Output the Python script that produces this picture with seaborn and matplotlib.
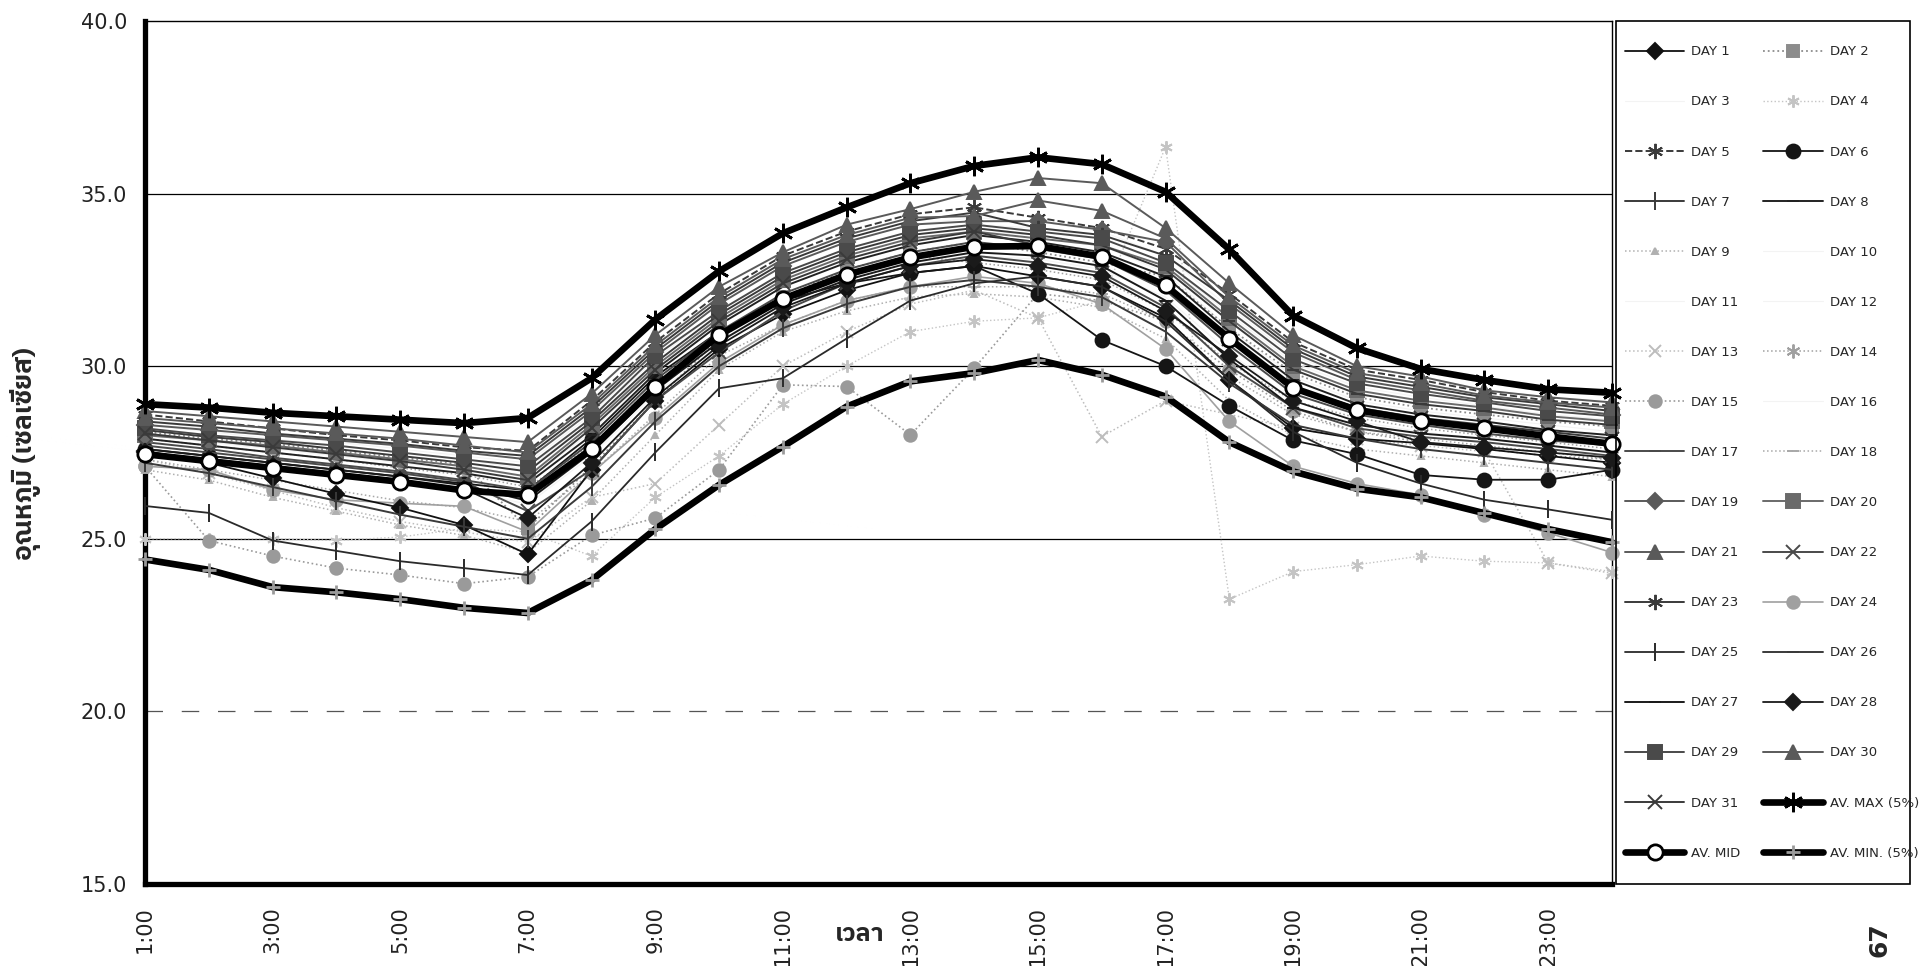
import matplotlib
matplotlib.use('Agg')
import matplotlib.pyplot as plt
from matplotlib import font_manager, ft2font
from matplotlib.patches import Rectangle
import pandas as pd
import seaborn as sns

# hours of the day (1:00 .. 24:00), labels on odd hours only
hours = list(range(1, 25))
tick_labels = [f'{h}:00' if h % 2 == 1 else '' for h in hours]
y_ticks = [15, 20, 25, 30, 35, 40]

# daily temperature readings (deg C)
day_01 = [27.55, 27.2, 26.75, 26.3, 25.9, 25.4, 24.55, 27.0, 29.0, 30.5, 31.5, 32.2, 32.7, 32.9, 32.6, 32.3, 31.4, 29.6, 28.2, 27.9, 27.77, 27.6, 27.4, 27.2]
day_02 = [28.1, 27.9, 27.75, 27.55, 27.35, 27.15, 25.3, 27.1, 29.0, 30.8, 32.0, 32.8, 33.3, 33.6, 33.3, 33.0, 32.6, 31.1, 29.8, 29.1, 28.8, 28.6, 28.4, 28.25]
day_03 = [28.0, 27.8, 27.6, 27.4, 27.2, 27.0, 26.7, 28.1, 29.9, 31.3, 32.4, 33.1, 33.6, 33.9, 33.8, 33.5, 32.7, 31.1, 29.7, 29.0, 28.7, 28.5, 28.3, 28.1]
day_04 = [25.0, 25.0, 25.0, 24.95, 25.05, 25.3, 25.2, 24.5, 26.2, 27.4, 28.9, 30.0, 31.0, 31.3, 31.4, 31.9, 36.35, 23.25, 24.05, 24.25, 24.5, 24.35, 24.3, 24.05]
day_05 = [28.6, 28.4, 28.2, 28.0, 27.85, 27.65, 27.55, 29.0, 30.7, 32.1, 33.2, 33.9, 34.4, 34.6, 34.3, 34.0, 33.4, 32.1, 30.7, 29.9, 29.6, 29.25, 29.0, 28.85]
day_06 = [27.6, 27.4, 27.2, 27.0, 26.8, 26.6, 26.4, 27.9, 29.7, 31.0, 31.9, 32.4, 32.7, 32.9, 32.1, 30.76, 30.0, 28.85, 27.85, 27.45, 26.85, 26.71, 26.71, 27.0]
day_07 = [27.2, 26.9, 26.5, 26.1, 25.7, 25.35, 25.0, 26.5, 28.4, 30.0, 31.1, 31.8, 32.3, 32.5, 32.3, 32.0, 31.0, 29.5, 28.3, 27.9, 27.6, 27.4, 27.2, 27.0]
day_08 = [27.9, 27.7, 27.5, 27.3, 27.1, 26.9, 26.6, 28.0, 29.8, 31.2, 32.3, 33.0, 33.5, 33.8, 33.6, 33.3, 32.6, 31.0, 29.6, 28.9, 28.6, 28.4, 28.15, 28.0]
day_09 = [27.0, 26.7, 26.2, 25.8, 25.4, 25.1, 24.6, 26.1, 28.0, 29.9, 31.0, 31.6, 32.0, 32.1, 32.0, 31.7, 30.8, 29.0, 28.0, 27.6, 27.4, 27.2, 27.0, 26.8]
day_10 = [28.3, 28.1, 27.9, 27.7, 27.5, 27.3, 27.0, 28.5, 30.2, 31.6, 32.7, 33.4, 33.9, 34.1, 34.0, 33.7, 33.0, 31.5, 30.1, 29.4, 29.1, 28.85, 28.6, 28.45]
day_11 = [27.7, 27.5, 27.3, 27.1, 26.9, 26.7, 26.3, 27.7, 29.5, 30.9, 32.0, 32.7, 33.2, 33.5, 33.4, 33.1, 32.3, 30.7, 29.3, 28.7, 28.4, 28.2, 28.0, 27.8]
day_12 = [28.4, 28.2, 28.0, 27.8, 27.6, 27.4, 27.2, 28.6, 30.4, 31.8, 32.9, 33.6, 34.1, 34.3, 34.2, 33.9, 33.2, 31.7, 30.3, 29.6, 29.3, 29.0, 28.8, 28.65]
day_13 = [27.3, 26.9, 26.4, 25.9, 25.5, 25.2, 24.9, 26.2, 26.6, 28.3, 30.0, 31.0, 31.8, 32.2, 31.4, 27.96, 29.0, 28.6, 28.2, 27.9, 27.7, 27.53, 24.3, 24.0]
day_14 = [27.9, 27.7, 27.5, 27.3, 27.05, 26.85, 26.5, 27.7, 29.5, 30.9, 32.0, 32.7, 33.2, 33.0, 32.8, 32.5, 31.6, 30.1, 29.0, 28.5, 28.2, 28.0, 27.8, 27.6]
day_15 = [27.1, 24.95, 24.5, 24.15, 23.95, 23.7, 23.9, 25.1, 25.6, 27.0, 29.46, 29.41, 28.01, 29.94, 32.1, 31.9, 31.3, 29.9, 28.7, 28.1, 27.8, 27.6, 27.4, 27.3]
day_16 = [27.4, 27.2, 27.0, 26.8, 26.6, 26.4, 26.0, 27.4, 29.2, 30.6, 31.7, 32.4, 32.9, 33.2, 33.1, 32.8, 32.0, 30.4, 29.0, 28.4, 28.1, 27.9, 27.7, 27.5]
day_17 = [27.8, 27.6, 27.35, 27.15, 26.95, 26.7, 26.4, 27.8, 29.6, 31.0, 32.1, 32.8, 33.3, 33.6, 33.4, 33.1, 32.2, 30.6, 29.2, 28.6, 28.3, 28.05, 27.85, 27.7]
day_18 = [27.3, 27.0, 26.7, 26.4, 26.1, 25.9, 25.5, 26.9, 28.6, 30.3, 31.2, 31.9, 32.3, 32.3, 32.3, 32.1, 31.3, 29.7, 28.6, 28.1, 27.9, 27.7, 27.5, 27.3]
day_19 = [28.3, 28.15, 28.0, 27.85, 27.7, 27.5, 27.3, 28.7, 30.4, 31.8, 32.9, 33.6, 34.1, 34.2, 34.2, 33.95, 33.6, 31.8, 30.4, 29.6, 29.3, 29.0, 28.8, 28.6]
day_20 = [28.0, 27.85, 27.7, 27.5, 27.3, 27.1, 26.8, 28.3, 30.0, 31.4, 32.5, 33.2, 33.7, 33.9, 33.7, 33.5, 32.9, 31.4, 30.0, 29.3, 29.0, 28.8, 28.55, 28.4]
day_21 = [28.7, 28.55, 28.4, 28.25, 28.1, 27.95, 27.8, 29.2, 30.9, 32.3, 33.3, 34.1, 34.55, 35.05, 35.45, 35.3, 34.0, 32.4, 30.9, 30.0, 29.7, 29.3, 29.1, 28.95]
day_22 = [27.7, 27.5, 27.3, 27.1, 26.9, 26.65, 25.8, 27.0, 29.0, 30.4, 31.6, 32.4, 32.9, 33.2, 33.0, 32.7, 31.7, 30.0, 28.8, 28.2, 27.95, 27.8, 27.6, 27.4]
day_23 = [28.4, 28.25, 28.05, 27.9, 27.75, 27.55, 27.4, 28.8, 30.5, 31.9, 33.0, 33.7, 34.2, 34.45, 34.0, 33.8, 33.2, 31.9, 30.5, 29.7, 29.4, 29.1, 28.9, 28.7]
day_24 = [27.1, 27.0, 26.42, 26.13, 26.03, 25.94, 25.2, 26.9, 28.5, 30.1, 31.2, 31.9, 32.3, 32.6, 32.4, 31.8, 30.5, 28.4, 27.1, 26.6, 26.27, 25.7, 25.17, 24.6]
day_25 = [25.95, 25.75, 24.95, 24.65, 24.35, 24.15, 23.95, 25.5, 27.5, 29.36, 29.65, 30.8, 31.9, 32.4, 32.6, 32.3, 31.3, 29.6, 28.1, 27.2, 26.6, 26.13, 25.85, 25.55]
day_26 = [28.15, 27.95, 27.8, 27.6, 27.4, 27.2, 26.95, 28.4, 30.1, 31.5, 32.6, 33.3, 33.8, 34.0, 33.8, 33.5, 32.8, 31.3, 29.9, 29.2, 28.9, 28.7, 28.45, 28.3]
day_27 = [27.6, 27.4, 27.2, 27.0, 26.8, 26.55, 26.1, 27.5, 29.3, 30.7, 31.8, 32.5, 33.0, 33.3, 33.2, 32.9, 31.9, 30.2, 28.8, 28.3, 28.05, 27.9, 27.7, 27.5]
day_28 = [27.5, 27.3, 27.1, 26.9, 26.7, 26.45, 25.6, 27.2, 29.1, 30.6, 31.7, 32.4, 32.9, 33.1, 32.9, 32.6, 31.6, 30.3, 29.0, 28.4, 27.8, 27.65, 27.5, 27.35]
day_29 = [28.2, 28.0, 27.85, 27.7, 27.5, 27.3, 27.1, 28.5, 30.3, 31.6, 32.7, 33.4, 33.9, 34.1, 33.9, 33.7, 33.0, 31.6, 30.2, 29.5, 29.2, 28.95, 28.7, 28.55]
day_30 = [28.5, 28.35, 28.2, 28.05, 27.9, 27.7, 27.5, 28.9, 30.6, 32.0, 33.1, 33.8, 34.3, 34.35, 34.8, 34.5, 33.7, 32.0, 30.6, 29.8, 29.5, 29.15, 28.95, 28.8]
day_31 = [28.05, 27.85, 27.65, 27.45, 27.25, 27.0, 26.7, 28.2, 29.9, 31.3, 32.4, 33.1, 33.6, 33.9, 33.5, 33.2, 32.4, 30.8, 29.4, 28.8, 28.5, 28.3, 28.1, 27.9]

# envelope curves
av_max = [28.9, 28.8, 28.65, 28.55, 28.45, 28.35, 28.5, 29.65, 31.35, 32.75, 33.85, 34.6, 35.3, 35.8, 36.05, 35.85, 35.05, 33.38, 31.46, 30.52, 29.92, 29.6, 29.33, 29.23]
av_mid = [27.45, 27.25, 27.05, 26.85, 26.65, 26.4, 26.27, 27.6, 29.4, 30.9, 31.95, 32.65, 33.15, 33.46, 33.48, 33.17, 32.34, 30.8, 29.37, 28.73, 28.42, 28.2, 27.97, 27.75]
av_min = [24.4, 24.1, 23.6, 23.45, 23.25, 23.0, 22.85, 23.8, 25.28, 26.56, 27.67, 28.83, 29.56, 29.8, 30.18, 29.75, 29.12, 27.8, 26.95, 26.45, 26.2, 25.74, 25.28, 24.9]

days = [day_01, day_02, day_03, day_04, day_05, day_06, day_07, day_08, day_09, day_10,
        day_11, day_12, day_13, day_14, day_15, day_16, day_17, day_18, day_19, day_20,
        day_21, day_22, day_23, day_24, day_25, day_26, day_27, day_28, day_29, day_30, day_31]
series = {f'DAY {i + 1}': vals for i, vals in enumerate(days)}
series['AV. MAX (5%)'] = av_max
series['AV. MID'] = av_mid
series['AV. MIN. (5%)'] = av_min

# line look for each series: color, linestyle, marker, markersize, linewidth, face colour
ASTER = (6, 2, 0)
GONE = '#f3f3f3'
looks = {
    'DAY 1': ('#111111', '-', 'D', 8, 1.3, None),
    'DAY 2': ('#8c8c8c', ':', 's', 9, 1.3, None),
    'DAY 3': (GONE, '-', '', 0, 0.8, None),
    'DAY 4': ('#c4c4c4', ':', ASTER, 9, 1.0, None),
    'DAY 5': ('#3a3a3a', '--', ASTER, 11, 1.4, None),
    'DAY 6': ('#151515', '-', 'o', 10, 1.3, None),
    'DAY 7': ('#3a3a3a', '-', '|', 13, 1.4, None),
    'DAY 8': ('#222222', '-', '_', 9, 1.4, None),
    'DAY 9': ('#b0b0b0', ':', '^', 5, 1.1, None),
    'DAY 10': (GONE, '-', '', 0, 0.8, None),
    'DAY 11': (GONE, '-', '', 0, 0.8, None),
    'DAY 12': (GONE, '-', '', 0, 0.8, None),
    'DAY 13': ('#bdbdbd', ':', 'x', 9, 1.1, None),
    'DAY 14': ('#a0a0a0', ':', ASTER, 10, 1.1, None),
    'DAY 15': ('#9a9a9a', ':', 'o', 9, 1.2, None),
    'DAY 16': (GONE, '-', '', 0, 0.8, None),
    'DAY 17': ('#4a4a4a', '-', '_', 9, 1.4, None),
    'DAY 18': ('#a8a8a8', ':', '_', 9, 1.1, None),
    'DAY 19': ('#5a5a5a', '-', 'D', 8, 1.4, None),
    'DAY 20': ('#6a6a6a', '-', 's', 10, 1.4, None),
    'DAY 21': ('#5a5a5a', '-', '^', 10, 1.4, None),
    'DAY 22': ('#4a4a4a', '-', 'x', 10, 1.4, None),
    'DAY 23': ('#3a3a3a', '-', ASTER, 11, 1.4, None),
    'DAY 24': ('#a0a0a0', '-', 'o', 9, 1.2, None),
    'DAY 25': ('#2a2a2a', '-', '|', 13, 1.3, None),
    'DAY 26': ('#3a3a3a', '-', '_', 8, 1.4, None),
    'DAY 27': ('#1a1a1a', '-', '_', 8, 1.4, None),
    'DAY 28': ('#1a1a1a', '-', 'D', 8, 1.3, None),
    'DAY 29': ('#4a4a4a', '-', 's', 10, 1.4, None),
    'DAY 30': ('#5a5a5a', '-', '^', 10, 1.4, None),
    'DAY 31': ('#3a3a3a', '-', 'x', 10, 1.4, None),
    'AV. MAX (5%)': ('black', '-', ASTER, 14, 4.8, None),
    'AV. MID': ('black', '-', 'o', 11, 4.8, 'white'),
    'AV. MIN. (5%)': ('black', '-', '+', 10, 4.8, None),
}

sns.set_theme(style='white')
plt.rcParams['font.family'] = ['DejaVu Sans']


def thai_family():
    fonts = sorted(font_manager.fontManager.ttflist, key=lambda f: 'Thai' not in f.name)
    for f in fonts:
        try:
            if 0x0E2D in ft2font.FT2Font(f.fname).get_charmap():
                return f.name
        except Exception:
            continue
    return 'DejaVu Sans'


thai = [thai_family(), 'DejaVu Sans']

fig = plt.figure(figsize=(19.26, 9.66), dpi=100)
ax = fig.add_axes([0.0753, 0.0849, 0.7617, 0.8934])

# reference lines
for v in [25, 30, 35]:
    ax.axhline(v, color='black', lw=0.9, zorder=0)
ax.axhline(20, color='#555555', lw=0.9, ls=(0, (14, 15)), zorder=0)

light = ['DAY 4', 'DAY 9', 'DAY 13', 'DAY 14', 'DAY 15', 'DAY 18', 'DAY 24', 'DAY 2']
hidden = ['DAY 3', 'DAY 10', 'DAY 11', 'DAY 12', 'DAY 16']
averages = ['AV. MAX (5%)', 'AV. MID', 'AV. MIN. (5%)']
dark = [n for n in series if n not in light + hidden + averages]

for name in hidden + light + dark + averages:
    color, ls, marker, ms, lw, face = looks[name]
    df = pd.DataFrame({'hour': hours, 'temp': series[name]})
    edge = '#9a9a9a' if name == 'AV. MIN. (5%)' else color
    sns.lineplot(data=df, x='hour', y='temp', ax=ax, label=name,
                 color=color, linestyle=ls, marker=marker, markersize=ms,
                 linewidth=lw, markerfacecolor=face if face else color,
                 markeredgecolor=edge, markeredgewidth=2.0 if name in averages else 1.4,
                 clip_on=False, zorder=5 if name in averages else 3, legend=False)

ax.set_xlim(1, 24)
ax.set_ylim(15, 40)
ax.set_xticks(hours)
ax.set_xticklabels(tick_labels, rotation=90)
ax.set_yticks(y_ticks)
ax.set_yticklabels([f'{v:.1f}' for v in y_ticks])
ax.set_xlabel('')
ax.set_ylabel('')
ax.tick_params(axis='both', direction='inout', length=16, width=2.2, color='black',
               labelsize=15, labelcolor='#222222')
ax.tick_params(axis='x', pad=8)
ax.tick_params(axis='y', pad=5)
for side in ['left', 'bottom']:
    ax.spines[side].set_linewidth(3.8)
for side in ['top', 'right']:
    ax.spines[side].set_linewidth(1.0)
for sp in ax.spines.values():
    sp.set_color('black')

# legend: odd days in the first column, even days in the second
lines = {ln.get_label(): ln for ln in ax.get_lines()}
col1 = [f'DAY {i}' for i in range(1, 32, 2)] + ['AV. MID']
col2 = [f'DAY {i}' for i in range(2, 31, 2)] + ['AV. MAX (5%)', 'AV. MIN. (5%)']
order = col1 + col2
fig.legend([lines[n] for n in order], order, loc='center', bbox_to_anchor=(0.9200, 0.5316),
           ncol=2, frameon=False, fontsize=9.5, handlelength=4.5, handletextpad=0.55,
           columnspacing=1.7, labelspacing=2.81, numpoints=1, borderpad=0.3)
fig.add_artist(Rectangle((0.8390, 0.0849), 0.1527, 0.8934, transform=fig.transFigure,
                         fill=False, lw=1.2, edgecolor='black'))

fig.text(0.013, 0.53, 'อุณหภูมิ (เซลเซียส)', rotation=90, ha='center', va='center',
         fontsize=19, fontweight='bold', family=thai)
fig.text(0.4465, 0.033, 'เวลา', ha='center', va='center', fontsize=18,
         fontweight='bold', family=thai)
fig.text(0.9757, 0.027, '67', rotation=90, ha='center', va='center', fontsize=18,
         fontweight='bold')

fig.savefig('out.png', dpi=100)
